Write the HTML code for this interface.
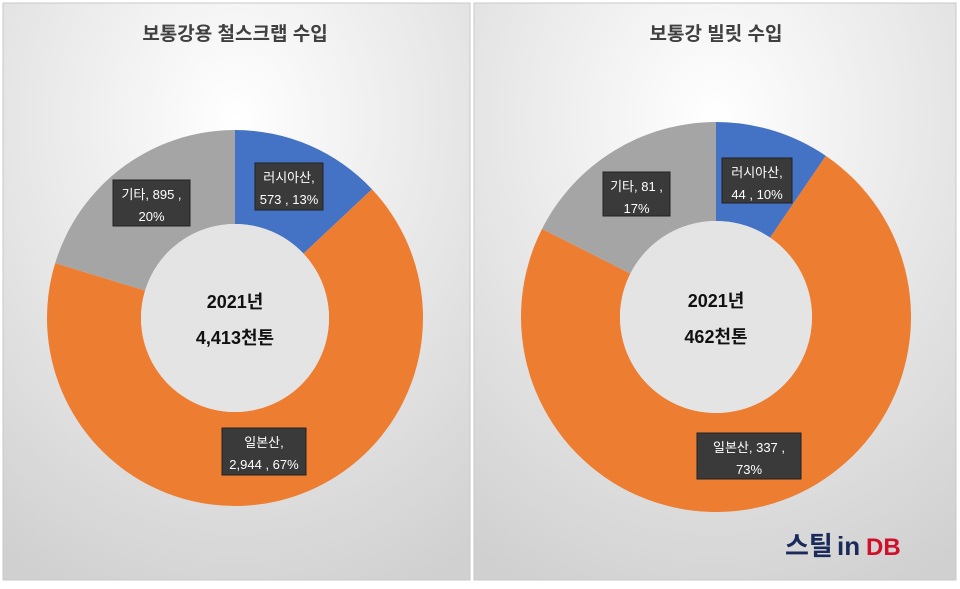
<!DOCTYPE html>
<html><head><meta charset="utf-8">
<style>
body{margin:0;width:960px;height:584px;background:#fff;overflow:hidden;font-family:"Liberation Sans","Noto Sans CJK KR",sans-serif;}
svg text{font-family:"Liberation Sans","Noto Sans CJK KR",sans-serif;}
</style></head>
<body>
<svg width="960" height="584" viewBox="0 0 960 584">
<defs>
<radialGradient id="bg" cx="50%" cy="20%" r="90%">
<stop offset="0" stop-color="#ffffff"/><stop offset="1" stop-color="#d0d0d0"/>
</radialGradient>
</defs>
<rect x="3" y="3" width="467" height="577" fill="url(#bg)" stroke="#c8c8c8"/>
<rect x="474" y="3" width="482" height="577" fill="url(#bg)" stroke="#c8c8c8"/>
<g id="charts"></g>
<text x="785" y="555" font-size="26" font-weight="bold" fill="#1a2a5a">스틸</text><text x="837" y="555" font-size="26" font-weight="bold" fill="#1a2a5a">in</text><text x="866" y="555" font-size="24" font-weight="bold" fill="#d0102a">DB</text>
</svg>
<script>
const leftCategories=["러시아산","일본산","기타"];
const leftValues=[573,2944,895];
const leftPercents=["13%","67%","20%"];
const rightCategories=["러시아산","일본산","기타"];
const rightValues=[44,337,81];
const rightPercents=["10%","73%","17%"];
const colors=["#4472c4","#ed7d31","#a5a5a5"];
const NS="http://www.w3.org/2000/svg";
const g=document.getElementById('charts');
function mk(t,a){const e=document.createElementNS(NS,t);for(const k in a)e.setAttribute(k,a[k]);g.appendChild(e);return e;}
function donut(cfg){
  const tot=cfg.values.reduce((a,b)=>a+b,0);
  let a0=0;
  cfg.values.forEach((v,i)=>{
    const a1=a0+v/tot*2*Math.PI;
    const p=(a,r)=>[cfg.cx+r*Math.sin(a),cfg.cy-r*Math.cos(a)];
    const [x0,y0]=p(a0,cfg.ro),[x1,y1]=p(a1,cfg.ro),[x2,y2]=p(a1,cfg.ri),[x3,y3]=p(a0,cfg.ri);
    const lg=(a1-a0)>Math.PI?1:0;
    const e=mk('path',{d:`M${x0},${y0}A${cfg.ro},${cfg.ro} 0 ${lg} 1 ${x1},${y1}L${x2},${y2}A${cfg.ri},${cfg.ri} 0 ${lg} 0 ${x3},${y3}Z`,fill:colors[i]});
    
    
    a0=a1;
  });
  const c=mk('circle',{cx:cfg.cx,cy:cfg.cy,r:cfg.ri,fill:'#e4e4e4'});
  
  
  cfg.labels.forEach((L,i)=>{
    const r=mk('rect',{x:L.x,y:L.y,width:L.w,height:L.h,fill:'#3a3a3a',stroke:'#222'});
    
    
    L.lines(cfg.values[i],cfg.percents[i],cfg.cats[i]).forEach((s,j)=>{
      const t=mk('text',{x:L.x+L.w/2,y:L.y+19+j*22,'font-size':13,fill:'#fff','text-anchor':'middle'});
      t.textContent=s;
      
      
    });
  });
  const tt=mk('text',{x:cfg.cx,y:40,'font-size':19,'font-weight':'bold',fill:'#404040','text-anchor':'middle'});
  tt.textContent=cfg.title;
  
  
  const c1=mk('text',{x:cfg.cx,y:cfg.cy-10,'font-size':18,'font-weight':'bold',fill:'#111','text-anchor':'middle'});
  c1.textContent='2021년';
  
  
  const c2=mk('text',{x:cfg.cx,y:cfg.cy+26,'font-size':18,'font-weight':'bold',fill:'#111','text-anchor':'middle'});
  c2.textContent=cfg.total;
  
  
}
const fmt=v=>v.toLocaleString('en-US');
donut({id:'scrap',title:'보통강용 철스크랩 수입',cx:235,cy:318,ro:188,ri:94,values:leftValues,percents:leftPercents,cats:leftCategories,total:'4,413천톤',
 labels:[{x:255,y:163,w:68,h:47,lines:(v,p,c)=>[c+',',fmt(v)+' , '+p]},
 {x:222,y:428,w:84,h:47,lines:(v,p,c)=>[c+',',fmt(v)+' , '+p]},
 {x:113,y:180,w:77,h:46,lines:(v,p,c)=>[c+',  '+fmt(v)+' ,',p]}]});
donut({id:'billet',title:'보통강 빌릿 수입',cx:716,cy:317,ro:195,ri:96,values:rightValues,percents:rightPercents,cats:rightCategories,total:'462천톤',
 labels:[{x:722,y:158,w:70,h:45,lines:(v,p,c)=>[c+',',fmt(v)+' , '+p]},
 {x:697,y:433,w:104,h:46,lines:(v,p,c)=>[c+',  '+fmt(v)+' ,',p]},
 {x:603,y:172,w:67,h:44,lines:(v,p,c)=>[c+',  '+fmt(v)+' ,',p]}]});
</script>
</body></html>
